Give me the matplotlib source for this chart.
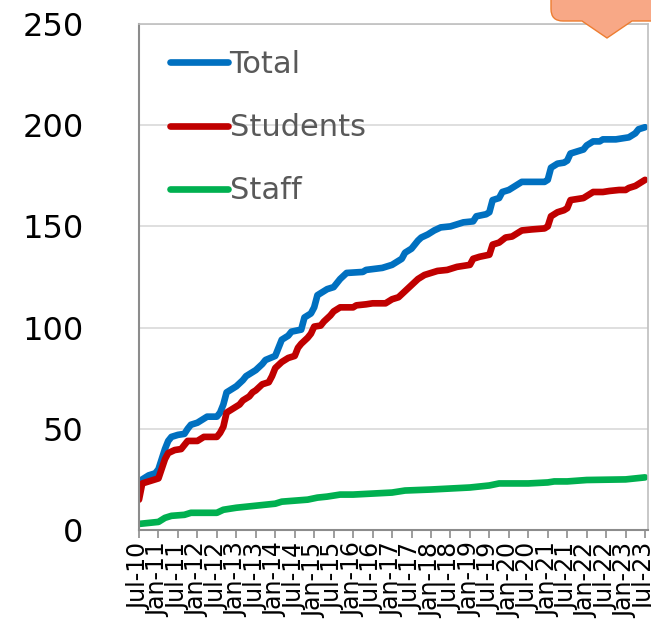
import matplotlib
matplotlib.use("Agg")
import matplotlib.pyplot as plt
from matplotlib.path import Path
from matplotlib.patches import PathPatch

# tick labels, every 6 months from Jul-10 to Jul-23
tick_labels = []
for yr in range(10, 24):
    tick_labels.append(f"Jan-{yr}")
    tick_labels.append(f"Jul-{yr}")
tick_labels = tick_labels[1:]
tick_months = [6 * i for i in range(len(tick_labels))]

# cumulative counts, (months since Jul-10, value)
total_m = [0, 1, 3, 5, 6, 8, 9, 10, 12, 14, 15, 16, 18, 20, 21, 24, 25, 26, 27, 29, 30, 32, 33,
           35, 36, 38, 39, 42, 43, 44, 46, 47, 50, 51, 53, 54, 55, 57, 58, 60, 62, 64, 69, 70,
           75, 77, 78, 80, 81, 82, 84, 86, 87, 89, 91, 93, 96, 98, 100, 103, 104, 107, 108,
           109, 111, 112, 114, 116, 117, 118, 125, 126, 127, 129, 131, 132, 133, 135, 137,
           138, 139, 140, 142, 143, 147, 149, 151, 153, 154, 156]
total = [18, 25, 27, 28, 30, 40, 44, 46, 47, 47.5, 50, 52, 53, 55, 56, 56, 58, 62, 68, 70, 71,
         74, 76, 78, 79, 82, 84, 86, 90, 94, 96, 98, 99, 105, 107, 110, 116, 118, 119, 120,
         124, 127, 127.5, 128.5, 129.5, 130.5, 131, 133, 134, 137, 139, 143, 144.5, 146, 148,
         149.5, 150, 151, 152, 152.5, 155, 156, 157, 163, 164, 167, 168, 170, 171, 172, 172,
         173, 179, 181, 181.5, 182.5, 186, 187, 188, 190, 191, 192, 192, 193, 193, 193.5,
         194, 196, 198, 199]

students_m = [0, 1, 3, 5, 6, 8, 9, 11, 13, 14, 15, 18, 20, 24, 25, 26, 27, 29, 31, 32, 34, 35,
              36, 38, 40, 41, 42, 44, 46, 48, 49, 50, 52, 53, 54, 56, 57, 59, 60, 62, 66, 67,
              70, 72, 76, 78, 80, 82, 84, 86, 88, 90, 92, 95, 98, 102, 103, 105, 108, 109,
              111, 113, 115, 117, 118, 121, 125, 126, 127, 129, 131, 132, 133, 135, 137, 139,
              140, 143, 145, 148, 150, 151, 153, 155, 156]
students = [15, 23, 24, 25, 25.5, 35, 38, 39.5, 40, 42, 44, 44, 46, 46, 48, 51, 58, 60, 62, 64,
            66, 68, 69, 72, 73, 76, 80, 83, 85, 86, 90, 92, 95, 97, 100.5, 101, 103, 106, 108,
            110, 110, 111, 111.5, 112, 112, 114, 115, 118, 121, 124, 126, 127, 128, 128.5, 130,
            131, 134, 135, 136, 141, 142, 144.5, 145, 147, 148, 148.5, 149, 150, 155, 157, 158,
            159, 163, 163.5, 164, 166, 167, 167, 167.5, 168, 168, 169, 170, 172, 173]

staff_m = [0, 3, 6, 8, 10, 14, 16, 24, 26, 30, 36, 42, 44, 48, 52, 55, 58, 62, 66, 72, 78, 82,
           90, 96, 102, 108, 111, 120, 126, 128, 132, 138, 150, 156]
staff = [3, 3.5, 4, 6, 7, 7.5, 8.5, 8.5, 10, 11, 12, 13, 14, 14.5, 15, 16, 16.5, 17.5, 17.5, 18,
         18.5, 19.5, 20, 20.5, 21, 22, 23, 23, 23.5, 24, 24, 24.7, 25, 26]

W, H = 651, 642


def px(x, y):
    # pixel position (from top-left) -> figure fraction
    return (x / W, 1 - y / H)


fig = plt.figure(figsize=(W / 100, H / 100), dpi=100)
ax = fig.add_axes([139 / W, 1 - 530 / H, (648 - 139) / W, (530 - 24) / H])

line_kw = dict(linewidth=4.8, solid_joinstyle="round", solid_capstyle="round")
ax.plot(total_m, total, color="#0070C0", label="Total", **line_kw)
ax.plot(students_m, students, color="#C00000", label="Students", **line_kw)
ax.plot(staff_m, staff, color="#00B050", label="Staff", **line_kw)

ax.set_xlim(0, 156.9)
ax.set_ylim(0, 250)
ax.set_yticks(range(0, 251, 50))
ax.set_xticks(tick_months)
ax.set_xticklabels(tick_labels, rotation=90, fontsize=17)
ax.yaxis.grid(True, color="#d9d9d9", linewidth=1.2)
ax.set_axisbelow(True)

ax.tick_params(axis="y", length=0, pad=40, labelsize=23)
ax.tick_params(axis="x", length=6, width=1.2, color="#8c8c8c", pad=3, direction="out")
for name, sp in ax.spines.items():
    sp.set_color("#bfbfbf")
    sp.set_linewidth(1.2)
ax.spines["left"].set_color("#8c8c8c")
ax.spines["bottom"].set_color("#8c8c8c")
ax.spines["left"].set_linewidth(1.5)
ax.spines["bottom"].set_linewidth(1.5)

leg = ax.legend(loc="upper left", bbox_to_anchor=px(170, 50),
                bbox_transform=fig.transFigure, frameon=False, fontsize=22,
                handlelength=1.9, handletextpad=0.05, labelspacing=1.12,
                borderpad=0, borderaxespad=0)
for t in leg.get_texts():
    t.set_color("#595959")

# orange callout bubble at the top right, partly off the figure
verts = [px(551, -10), px(551, 9), px(551, 21), px(563, 21), px(582, 21), px(607, 38),
         px(632, 21), px(665, 21), px(665, -10), px(551, -10)]
codes = [Path.MOVETO, Path.LINETO, Path.CURVE3, Path.CURVE3, Path.LINETO, Path.LINETO,
         Path.LINETO, Path.LINETO, Path.LINETO, Path.CLOSEPOLY]
bubble = PathPatch(Path(verts, codes), transform=fig.transFigure, facecolor="#F8A886",
                   edgecolor="#ED7D31", linewidth=1, zorder=5)
fig.patches.append(bubble)

fig.savefig("out.png", dpi=100)
